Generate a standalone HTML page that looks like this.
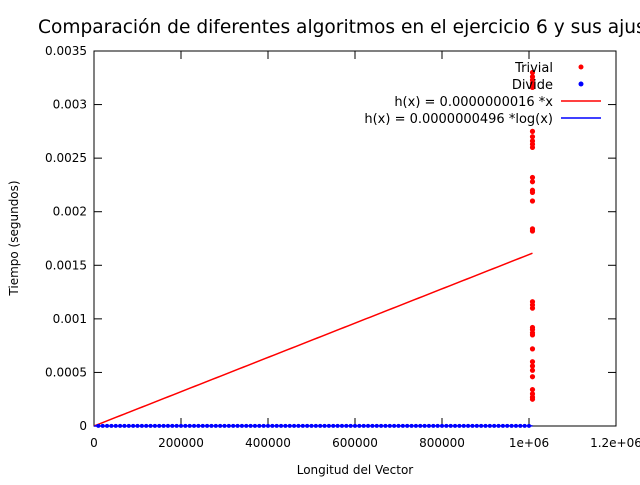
<!DOCTYPE html>
<html><head><meta charset="utf-8"><style>
body{margin:0;background:#fff}
svg text{font-family:"DejaVu Sans","Liberation Sans",sans-serif}
</style></head><body>
<svg id="c" width="640" height="480">
<text x="38" y="33" font-size="18.6">Comparación de diferentes algoritmos en el ejercicio 6 y sus ajustes</text>
<text x="355" y="474" font-size="12" text-anchor="middle">Longitud del Vector</text>
<text transform="translate(18,238) rotate(-90)" font-size="12" text-anchor="middle">Tiempo (segundos)</text>
<g id="ax"></g><g id="marks"></g><g id="leg"></g>
</svg>
<script>
const xTicks=[0,200000,400000,600000,800000,1000000,1200000];
const xTickLabels=["0","200000","400000","600000","800000","1e+06","1.2e+06"];
const yTicks=[0,0.0005,0.001,0.0015,0.002,0.0025,0.003,0.0035];
const yTickLabels=["0","0.0005","0.001","0.0015","0.002","0.0025","0.003","0.0035"];
const trivialX=1008000;
const trivialY=[0.0033,0.00326,0.00323,0.0032,0.00318,0.00316,0.00275,0.0027,0.00266,0.00263,0.0026,0.00232,0.00228,0.0022,0.00218,0.0021,0.00184,0.00182,0.00116,0.00113,0.0011,0.00092,0.0009,0.00087,0.00085,0.00072,0.0006,0.00056,0.00052,0.00046,0.00034,0.0003,0.00027,0.00025];
const divideStep=10000, divideCount=100;
const divideY=0.000001;
const linCoef=0.0000000016, logCoef=0.0000000496, fitMax=1008000;
const NS="http://www.w3.org/2000/svg";
const L=94,R=616,T=51,B=426;
const X=v=>L+v/1200000*(R-L), Y=v=>B-v/0.0035*(B-T);
function mk(p,t,a){const e=document.createElementNS(NS,t);for(const k in a)e.setAttribute(k,a[k]);p.appendChild(e);return e;}
const ax=document.getElementById('ax'),mg=document.getElementById('marks'),lg=document.getElementById('leg');
let f=mk(ax,'rect',{x:L,y:T,width:R-L,height:B-T,fill:'none',stroke:'#000','stroke-width':1});

xTicks.forEach((v,i)=>{const x=X(v);
 mk(ax,'line',{x1:x,y1:B,x2:x,y2:B-8,stroke:'#000'});mk(ax,'line',{x1:x,y1:T,x2:x,y2:T+8,stroke:'#000'});
 const t=mk(ax,'text',{x:x,y:B+21,'font-size':12,'text-anchor':'middle'});t.textContent=xTickLabels[i];
 });
yTicks.forEach((v,i)=>{const y=Y(v);
 mk(ax,'line',{x1:L,y1:y,x2:L+8,y2:y,stroke:'#000'});mk(ax,'line',{x1:R,y1:y,x2:R-8,y2:y,stroke:'#000'});
 const t=mk(ax,'text',{x:L-7,y:y+4,'font-size':12,'text-anchor':'end'});t.textContent=yTickLabels[i];
 });
let pl=[],pg=[];
for(let i=0;i<=100;i++){const x=1+(fitMax-1)*i/100;pl.push(X(x)+','+Y(linCoef*x));pg.push(X(x)+','+Y(logCoef*Math.log(x)));}
let l1=mk(mg,'polyline',{points:pl.join(' '),fill:'none',stroke:'#f00','stroke-width':1.5});

let l2=mk(mg,'polyline',{points:pg.join(' '),fill:'none',stroke:'#00f','stroke-width':1.5});

for(let i=1;i<=divideCount;i++){const c=mk(mg,'circle',{cx:X(i*divideStep),cy:Y(divideY),r:2,fill:'#00f'});
 }
trivialY.forEach(v=>{const c=mk(mg,'circle',{cx:X(trivialX),cy:Y(v),r:2.6,fill:'#f00'});
 });
const items=[["Trivial","#f00","pt"],["Divide","#00f","pt"],["h(x) = 0.0000000016 *x","#f00","ln"],["h(x) = 0.0000000496 *log(x)","#00f","ln"]];
items.forEach((it,i)=>{const y=67+i*17;
 const t=mk(lg,'text',{x:553,y:y+5,'font-size':13,'text-anchor':'end'});t.textContent=it[0];
 
 let m;if(it[2]=='pt')m=mk(lg,'circle',{cx:581,cy:y,r:2.5,fill:it[1]});
 else m=mk(lg,'line',{x1:561,y1:y,x2:601,y2:y,stroke:it[1],'stroke-width':1.5});
 });
</script>
</body></html>
